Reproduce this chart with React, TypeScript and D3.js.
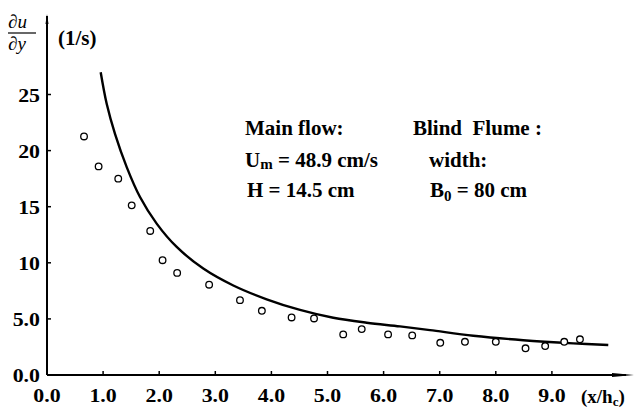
import React from "react";
import * as d3 from "d3";

const xTicks = [0, 1, 2, 3, 4, 5, 6, 7, 8, 9];
const xTickLabels = ["0.0", "1.0", "2.0", "3.0", "4.0", "5.0", "6.0", "7.0", "8.0", "9.0"];
const yTicks = [0, 5, 10, 15, 20, 25];
const yTickLabels = ["0.0", "5.0", "10", "15", "20", "25"];

// measured points (open circles)
const pointX = [0.66, 0.92, 1.27, 1.51, 1.84, 2.06, 2.32, 2.89, 3.44, 3.83, 4.36, 4.76, 5.28, 5.61, 6.08, 6.51, 7.01, 7.45, 8.0, 8.53, 8.88, 9.22, 9.5];
const pointY = [21.26, 18.59, 17.5, 15.12, 12.84, 10.23, 9.1, 8.05, 6.67, 5.72, 5.13, 5.04, 3.62, 4.09, 3.62, 3.53, 2.87, 2.96, 2.96, 2.38, 2.58, 2.96, 3.18];

// fitted curve (solid line)
const curveX = [0.957, 1.064, 1.212, 1.421, 1.658, 1.955, 2.312, 2.786, 3.321, 3.916, 4.51, 5.103, 5.699, 6.292, 6.827, 7.599, 8.49, 9.381, 10.005];
const curveY = [26.98, 24.17, 21.49, 18.53, 15.86, 13.49, 11.41, 9.49, 7.98, 6.75, 5.8, 5.1, 4.66, 4.33, 4.0, 3.5, 3.1, 2.82, 2.67];

const FONT = "Liberation Serif, DejaVu Serif, serif";

export default function App() {
  const W = 634, H = 415;
  const x = d3.scaleLinear().domain([0, 10]).range([47, 608]);
  const y = d3.scaleLinear().domain([0, 25]).range([375, 94.5]);

  const line = d3
    .line<number>()
    .x((_, i) => x(curveX[i]))
    .y((_, i) => y(curveY[i]))
    .curve(d3.curveCatmullRom.alpha(0.5));
  const linePath = line(curveX) || "";

  const ax = x(0), ay = y(0);
  const tStyle = { fontFamily: FONT, whiteSpace: "pre" as const };

  return (
    <svg width={W} height={H} style={{ position: "absolute", left: 0, top: 0, background: "#fff", fontFamily: FONT }}>
      {/* axes */}
      <line x1={ax} y1={ay} x2={626} y2={ay} stroke="#000" strokeWidth={2} />
      <path d={`M612,${ay - 2} L634,${ay} L612,${ay + 2} Z`} fill="#000" />
      <line x1={ax} y1={ay} x2={ax} y2={16} stroke="#000" strokeWidth={2} />
      <path d={`M${ax - 1.5},24 L${ax},14 L${ax + 1.5},24 Z`} fill="#000" />

      {/* x ticks */}
      {xTicks.map((t, i) => (
        <g key={"xt" + i}>
          {i > 0 && <line x1={x(t)} x2={x(t)} y1={ay} y2={ay - 4} stroke="#000" strokeWidth={1.5} />}
          <text style={tStyle} transform={`translate(${x(t)},402) scale(1.15,1)`} textAnchor="middle"
            fontSize={19} fontWeight="bold">{xTickLabels[i]}</text>
        </g>
      ))}
      {/* y ticks */}
      {yTicks.map((t, i) => (
        <g key={"yt" + i}>
          {i > 0 && <line x1={ax} x2={ax + 4} y1={y(t)} y2={y(t)} stroke="#000" strokeWidth={1.5} />}
          <text style={tStyle} transform={`translate(40,${y(t) + 7}) scale(1.15,1)`} textAnchor="end"
            fontSize={19} fontWeight="bold">{yTickLabels[i]}</text>
        </g>
      ))}

      {/* axis titles */}
      <text style={tStyle} x={8} y={28} fontSize={19} fontStyle="italic">∂u</text>
      <line x1={8} x2={36} y1={33} y2={33} stroke="#000" strokeWidth={1.2} />
      <text style={tStyle} x={8} y={50} fontSize={19} fontStyle="italic">∂y</text>
      <text style={tStyle} x={58} y={45} fontSize={21} fontWeight="bold">(1/s)</text>
      <text style={tStyle} x={581} y={403} fontSize={19} fontWeight="bold">(x/h<tspan fontSize={13} dy={3}>c</tspan><tspan dy={-3}>)</tspan></text>

      {/* curve */}
      <path d={linePath} fill="none" stroke="#000" strokeWidth={2.4} />

      {/* points */}
      {pointX.map((px, i) => (
        <circle key={"p" + i} cx={x(px)} cy={y(pointY[i])} r={3.3} fill="#fff" stroke="#000" strokeWidth={1.3} />
      ))}

      {/* annotations */}
      <g fontSize={21} fontWeight="bold">
        <text style={tStyle} x={245} y={135}>Main flow:</text>
        <text style={tStyle} x={245} y={167}>U<tspan fontSize={15} dy={2}>m</tspan><tspan dy={-2}> = 48.9 cm/s</tspan></text>
        <text style={tStyle} x={247} y={197}>H = 14.5 cm</text>
        <text style={tStyle} x={413} y={135}>{"Blind  Flume :"}</text>
        <text style={tStyle} x={429} y={167}>width:</text>
        <text style={tStyle} x={430} y={197}>B<tspan fontSize={15} dy={4}>0</tspan><tspan dy={-4}> = 80 cm</tspan></text>
      </g>
    </svg>
  );
}
